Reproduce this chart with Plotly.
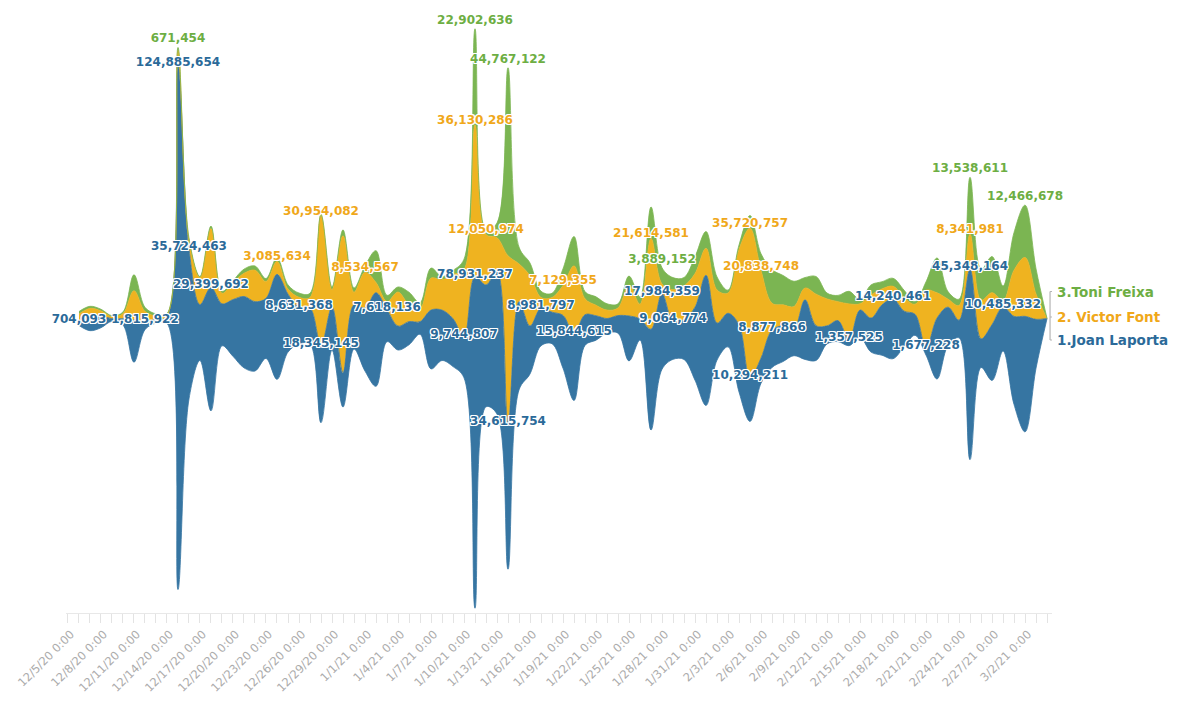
import numpy as np
import pandas as pd
import plotly.graph_objects as go

# ---------------- data ----------------
dates = pd.date_range("2020-12-05", "2021-03-03", freq="D")

joan_laporta = [
    704093, 3500000, 2800000, 600000, 1500000, 10000000, 1815922, 1000000, 1500000, 124885654,
    35724463, 13300000, 29399692, 10000000, 13500000, 17000000, 16500000, 14300000, 25000000, 13800000,
    8631368, 8500000, 18345145, 10300000, 8200000, 10500000, 15000000, 22300000, 7618136, 5700000,
    5500000, 3000000, 14000000, 12000000, 11400000, 9744807, 78931237, 29000000, 34000000, 34615754,
    21000000, 11400000, 8981797, 7500000, 12600000, 15844615, 7300000, 5800000, 3500000, 4200000,
    10700000, 5000000, 24000000, 17984359, 9064774, 9500000, 17400000, 31000000, 8800000, 8000000,
    16000000, 10294211, 6000000, 8877866, 8500000, 6500000, 14200000, 8300000, 4300000, 5000000,
    1357525, 6500000, 8100000, 12000000, 14240461, 8500000, 5000000, 1677228, 14500000, 9100000,
    4200000, 45348164, 6800000, 13300000, 10485332, 21000000, 27500000, 11600000, 0,
]
victor_font = [
    2000000, 1800000, 1200000, 500000, 1200000, 7000000, 2500000, 700000, 500000, 3500000,
    2000000, 6400000, 14000000, 2500000, 4000000, 5500000, 7500000, 4000000, 3085634, 1200000,
    2500000, 2500000, 30954082, 4000000, 32600000, 3000000, 8534567, 2400000, 1900000, 8100000,
    4000000, 3000000, 7600000, 7200000, 10500000, 16000000, 36130286, 12050974, 8000000, 40000000,
    9000000, 12000000, 2500000, 3500000, 7129355, 16200000, 3800000, 2500000, 2000000, 1800000,
    7400000, 3500000, 21614581, 2300000, 7500000, 8000000, 8000000, 6400000, 7900000, 4800000,
    18000000, 35720757, 20838748, 6400000, 5000000, 5200000, 2800000, 7500000, 6400000, 4500000,
    8600000, 1500000, 5500000, 3800000, 3000000, 3200000, 2400000, 13800000, 6000000, 1900000,
    3500000, 8341981, 9200000, 7600000, 1500000, 11000000, 14000000, 6000000, 0,
]
toni_freixa = [
    600000, 500000, 400000, 200000, 400000, 3800000, 1000000, 500000, 300000, 671454,
    600000, 300000, 600000, 500000, 500000, 1000000, 1000000, 700000, 900000, 1000000,
    1000000, 1000000, 300000, 700000, 1400000, 1000000, 1500000, 7600000, 1500000, 1200000,
    3000000, 1500000, 2400000, 800000, 1000000, 2500000, 22902636, 1000000, 3500000, 44767122,
    4000000, 3000000, 1500000, 1000000, 4000000, 7000000, 1700000, 2000000, 1500000, 1000000,
    2100000, 1700000, 7500000, 3889152, 2900000, 2000000, 4000000, 4000000, 3100000, 700000,
    1000000, 3000000, 4000000, 8000000, 7000000, 6000000, 2500000, 4200000, 1400000, 1500000,
    3000000, 1000000, 2400000, 1700000, 1900000, 1800000, 600000, 2000000, 8300000, 1800000,
    1500000, 13538611, 7300000, 8600000, 3500000, 9000000, 12466678, 6000000, 0,
]

series_names = ["1.Joan Laporta", "2. Victor Font", "3.Toni Freixa"]

# labelled points: (date, series index 0=Laporta,1=Font,2=Freixa)
label_dates = [
    "2020-12-05", "2020-12-11", "2020-12-14", "2020-12-14", "2020-12-15", "2020-12-17",
    "2020-12-23", "2020-12-25", "2020-12-27", "2020-12-27", "2020-12-31", "2021-01-02",
    "2021-01-09", "2021-01-10", "2021-01-10", "2021-01-10", "2021-01-11", "2021-01-13",
    "2021-01-13", "2021-01-16", "2021-01-18", "2021-01-19", "2021-01-26", "2021-01-27",
    "2021-01-27", "2021-01-28", "2021-02-04", "2021-02-04", "2021-02-05", "2021-02-06",
    "2021-02-13", "2021-02-17", "2021-02-20", "2021-02-24", "2021-02-24", "2021-02-24",
    "2021-02-27", "2021-03-01",
]
label_series = [
    0, 0, 2, 0, 0, 0,
    1, 0, 1, 0, 1, 0,
    0, 2, 1, 0, 1, 2,
    0, 0, 1, 0, 1, 2,
    0, 0, 1, 0, 1, 0,
    0, 0, 0, 2, 1, 0,
    0, 2,
]

# ---------------- styling ----------------
area_colors = ["#3675A2", "#EFB320", "#7BB552"]
text_colors = ["#2B6A99", "#F0A81A", "#6DAE43"]
label_lift = [0.5e6, 0.95e6, 1.9e6]   # label sits slightly above its band top
FONT = "DejaVu Sans"
SMOOTH = 1.0
halo = ("-1px -1px 0 #fff, 1px -1px 0 #fff, -1px 1px 0 #fff, 1px 1px 0 #fff, "
        "0 -1px 0 #fff, 0 1px 0 #fff, -1px 0 0 #fff, 1px 0 0 #fff")

vals = [np.array(joan_laporta, float), np.array(victor_font, float), np.array(toni_freixa, float)]
total = vals[0] + vals[1] + vals[2]
base = -total / 2.0
bounds = [base]
for v in vals:
    bounds.append(bounds[-1] + v)

fig = go.Figure()
fig.add_trace(go.Scatter(x=dates, y=bounds[0], mode="lines",
                         line=dict(width=0.8, color=area_colors[0], shape="spline", smoothing=SMOOTH),
                         hoverinfo="skip", showlegend=False))
for i in range(3):
    fig.add_trace(go.Scatter(x=dates, y=bounds[i + 1], mode="lines", fill="tonexty",
                             fillcolor=area_colors[i], name=series_names[i],
                             line=dict(width=0.8, color=area_colors[i], shape="spline",
                                       smoothing=SMOOTH),
                             showlegend=False))

# value labels
date_index = {d.strftime("%Y-%m-%d"): k for k, d in enumerate(dates)}
for s in range(3):
    xs, ys, ts = [], [], []
    for d, si in zip(label_dates, label_series):
        if si != s:
            continue
        k = date_index[d]
        xs.append(dates[k])
        ys.append(bounds[s + 1][k] + label_lift[s])
        ts.append(f"{int(vals[s][k]):,}")
    fig.add_trace(go.Scatter(x=xs, y=ys, text=ts, mode="text", textposition="middle center",
                             cliponaxis=False,
                             textfont=dict(family=FONT, size=12, color=text_colors[s],
                                           weight="bold", shadow=halo),
                             hoverinfo="skip", showlegend=False))

# end-of-line series labels with bracket
last = dates[-1]
offsets = [-21.5, 1.5, 26.5]
for s in range(3):
    fig.add_annotation(x=last, y=0, xref="x", yref="y", text=series_names[s], showarrow=False,
                       xanchor="left", yanchor="middle", xshift=8, yshift=offsets[s],
                       font=dict(family=FONT, size=13.5, color=text_colors[s], weight="bold"))
br = "#B5B5B5"
for (x0, y0, x1, y1) in [(3, -21.5, 3, 27), (3, 27, 7, 27), (3, 1.5, 7, 1.5), (3, -21.5, 7, -21.5)]:
    fig.add_shape(type="line", xref="x", yref="y", xsizemode="pixel", ysizemode="pixel",
                  xanchor=last, yanchor=0, x0=x0, x1=x1, y0=y0, y1=y1,
                  line=dict(color=br, width=1.2))

x_start = dates[0] - pd.Timedelta(days=1.18)
x_end = dates[0] + pd.Timedelta(days=88.45)

fig.update_layout(
    width=1200, height=715,
    margin=dict(l=58, r=156, t=12, b=110),
    paper_bgcolor="white", plot_bgcolor="white",
    xaxis=dict(
        type="date", range=[x_start, x_end], showgrid=False, zeroline=False,
        automargin=False,
        showline=True, linecolor="#E8E8E8", linewidth=1,
        tickmode="linear", tick0="2020-12-05", dtick=3 * 86400000,
        tickformat="%-m/%-d/%y %-H:%M", tickangle=-45, ticklabelshift=-8,
        ticks="outside", ticklen=9, tickcolor="#E3E3E3", tickwidth=1,
        minor=dict(ticks="outside", dtick=86400000, tick0="2020-12-05",
                   ticklen=9, tickcolor="#E3E3E3", tickwidth=1),
        tickfont=dict(family=FONT, size=11.5, color="#ABABAB"),
    ),
    yaxis=dict(visible=False, range=[-70.12e6, 71.07e6], showgrid=False, zeroline=False,
               automargin=False),
    hovermode=False,
)

fig.write_html("out.html")
